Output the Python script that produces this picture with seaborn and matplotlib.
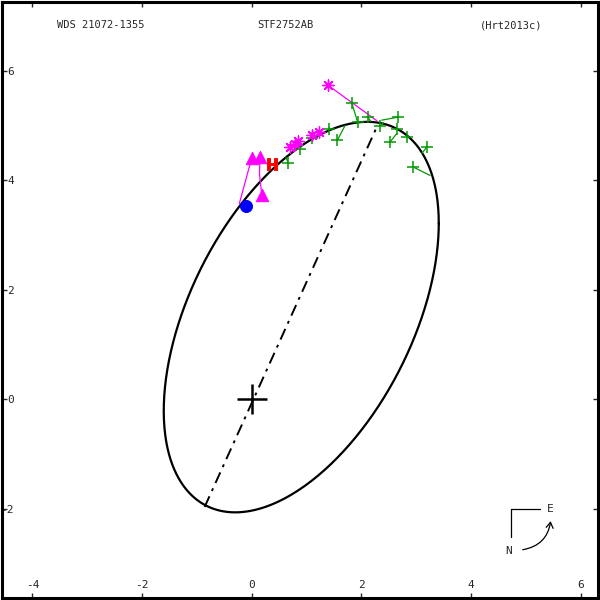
import numpy as np
import pandas as pd
import matplotlib
matplotlib.use("Agg")
import matplotlib.pyplot as plt
import seaborn as sns
from matplotlib.patches import FancyArrowPatch

# ---- data -------------------------------------------------------------
title_left = "WDS 21072-1355"
title_mid = "STF2752AB"
title_right = "(Hrt2013c)"

x_ticks = [-4, -2, 0, 2, 4, 6]
y_ticks = [-2, 0, 2, 4, 6]

# apparent orbit ellipse (centre and second-moment matrix)
ell_center = [0.902, 1.50]
ell_sxx, ell_sxy, ell_syy = 6.29, 4.30, 12.74

# line of apsides endpoints
apsides_x = [-0.86, 2.30]
apsides_y = [-1.97, 5.02]

# micrometer measures (green +): observed and predicted
green_x = [1.822, 2.672, 2.114, 1.931, 2.338, 2.643, 2.825, 2.521, 1.559, 1.413, 3.190, 2.945, 1.092, 0.879, 0.666]
green_y = [5.419, 5.156, 5.156, 5.065, 4.992, 4.944, 4.791, 4.700, 4.731, 4.944, 4.608, 4.243, 4.773, 4.566, 4.323]
green_px = [1.93, 2.37, 2.17, 1.95, 2.40, 2.66, 2.84, 2.643, 1.70, 1.41, 3.10, 3.25, 1.10, 0.90, 0.62]
green_py = [5.065, 5.10, 5.08, 5.06, 5.05, 4.93, 4.80, 4.853, 5.00, 4.96, 4.49, 4.09, 4.85, 4.62, 4.42]

# magenta asterisks
star_x = [1.395, 0.85, 0.788, 0.697, 1.092, 1.231]
star_y = [5.735, 4.71, 4.67, 4.61, 4.82, 4.882]
star_px = [2.28, 0.83, 0.78, 0.70, 1.10, 1.24]
star_py = [5.09, 4.66, 4.62, 4.55, 4.84, 4.90]

# magenta triangles
tri_x = [-0.002, 0.150, 0.181]
tri_y = [4.407, 4.425, 3.739]
tri_px = [-0.228, 0.14, 0.14]
tri_py = [3.574, 4.12, 4.12]

# red H
hip_x = [0.363]
hip_y = [4.305]

# blue filled circle
blue_x = [-0.111]
blue_y = [3.525]

# ---- figure -----------------------------------------------------------
sns.set_style("white")
plt.rcParams["font.family"] = ["DejaVu Sans Mono", "DejaVu Sans"]
plt.rcParams["axes.unicode_minus"] = False

fig = plt.figure(figsize=(6, 6), dpi=100)
ax = fig.add_axes([1.5 / 600, 2 / 600, 596.5 / 600, 596 / 600])

# ellipse
t = np.linspace(0, 2 * np.pi, 400)
L = np.linalg.cholesky(np.array([[ell_sxx, ell_sxy], [ell_sxy, ell_syy]]))
pts = L @ np.vstack([np.cos(t), np.sin(t)])
ell = pd.DataFrame({"x": pts[0] + ell_center[0], "y": pts[1] + ell_center[1], "t": t})
sns.lineplot(data=ell, x="x", y="y", sort=False, estimator=None, color="black", lw=1.6, ax=ax)

# line of apsides
ax.plot(apsides_x, apsides_y, color="black", lw=1.4, dashes=(6, 3, 1.5, 3))

# central star cross
ax.plot([0], [0], marker="+", ms=22, mew=1.8, color="black", ls="none")

# O-C lines
def oc(xs, ys, pxs, pys, col):
    for a, b, c, d in zip(xs, ys, pxs, pys):
        ax.plot([a, c], [b, d], color=col, lw=0.9)

oc(green_x, green_y, green_px, green_py, "#009900")
oc(star_x, star_y, star_px, star_py, "#ff00ff")
oc(tri_x, tri_y, tri_px, tri_py, "#ff00ff")

# markers
sns.scatterplot(x=green_x, y=green_y, marker="+", s=65, color="#009900", linewidth=1.1, ax=ax, zorder=5)
sns.scatterplot(x=star_x, y=star_y, marker=(8, 2, 0), s=65, color="#ff00ff", edgecolor="#ff00ff", linewidth=1.0, ax=ax, zorder=5)
sns.scatterplot(x=tri_x, y=tri_y, marker="^", s=80, color="#ff00ff", edgecolor="#ff00ff", ax=ax, zorder=5)
sns.scatterplot(x=hip_x, y=hip_y, marker=r"$\mathbf{H}$", s=70, color="red", edgecolor="red", ax=ax, zorder=6)
sns.scatterplot(x=blue_x, y=blue_y, marker="o", s=75, color="blue", edgecolor="blue", ax=ax, zorder=6)

# compass
ax.plot([4.727, 5.256], [-2.009, -2.009], color="black", lw=0.9)
ax.plot([4.727, 4.727], [-2.009, -2.52], color="black", lw=0.9)
ax.text(5.44, -2.0, "E", ha="center", va="center", fontsize=8)
ax.text(4.68, -2.77, "N", ha="center", va="center", fontsize=8)
arr = FancyArrowPatch((4.89, -2.76), (5.457, -2.18), connectionstyle="arc3,rad=0.4",
                      arrowstyle="->,head_length=4,head_width=2.5", color="black", lw=0.9)
ax.add_patch(arr)

# limits and ticks
ax.set_xlim(-4.565, 6.314)
ax.set_ylim(-3.635, 7.26)
ax.set_xticks(x_ticks)
ax.set_yticks(y_ticks)
ax.set_xticklabels([str(v) for v in x_ticks])
ax.set_yticklabels([str(v) for v in y_ticks])
ax.tick_params(axis="x", direction="in", length=3.5, width=1, top=True, bottom=True,
               pad=-13, labelsize=8)
ax.tick_params(axis="y", direction="in", length=3.5, width=1, left=True, right=True,
               pad=-9, labelsize=8)
for lab in ax.get_yticklabels():
    lab.set_horizontalalignment("right")
ax.set_xlabel("")
ax.set_ylabel("")
for sp in ax.spines.values():
    sp.set_linewidth(2.2)
    sp.set_color("black")
    sp.set_visible(True)
if ax.get_legend():
    ax.get_legend().remove()

# titles
fig.text(101 / 600, 1 - 25 / 600, title_left, ha="center", va="center", fontsize=7.5)
fig.text(285 / 600, 1 - 25 / 600, title_mid, ha="center", va="center", fontsize=7.5)
fig.text(511 / 600, 1 - 25 / 600, title_right, ha="center", va="center", fontsize=7.5)

fig.savefig("out.png", dpi=100)
